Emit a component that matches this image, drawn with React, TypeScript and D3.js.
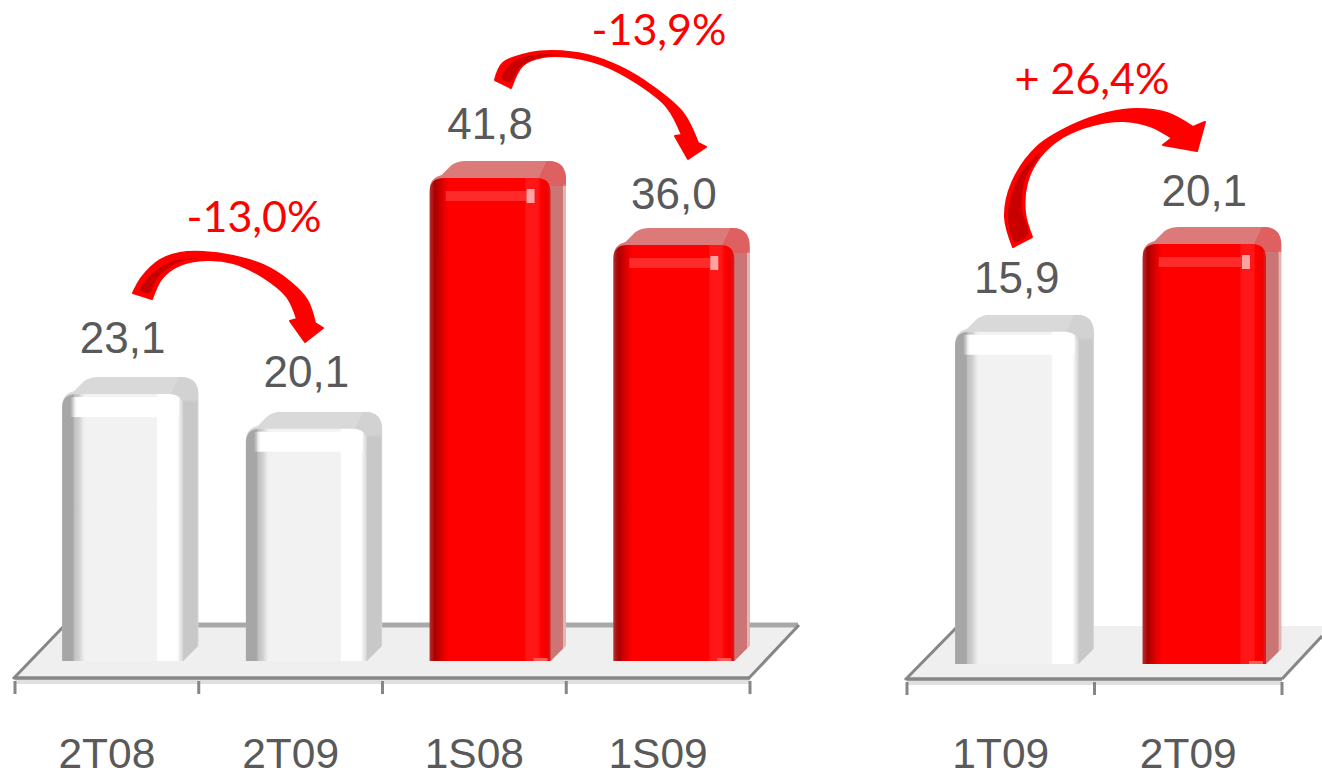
import React, { useEffect, useRef } from 'react';
import * as d3 from 'd3';

const leftCategories = ['2T08', '2T09', '1S08', '1S09'];
const leftValues = [23.1, 20.1, 41.8, 36.0];
const leftRed = [false, false, true, true];
const rightCategories = ['1T09', '2T09'];
const rightValues = [15.9, 20.1];
const rightRed = [false, true];

const GREY_TEXT = '#595959';
const AXIS = '#868686';

type Pt = [number, number];

// hand traced block arrows: outer edge, head corners, inner edge
const arrows: { outer: Pt[]; head: Pt[]; inner: Pt[]; dark: Pt[] }[] = [
  {
    outer: [[133, 293], [142, 277], [160, 260], [180, 253], [203, 252], [233, 256], [263, 265], [290, 282], [307, 300], [315, 323]],
    head: [[323, 328], [305, 342], [290, 321], [297, 319]],
    inner: [[297, 319], [287, 297], [263, 277], [233, 263], [207, 260], [180, 265], [162, 278], [152, 299]],
    dark: [[140, 290], [149, 293], [158, 277], [177, 263], [197, 258], [173, 261], [153, 273]],
  },
  {
    outer: [[495, 80], [503, 63], [530, 53], [553, 51], [587, 55], [620, 67], [653, 87], [683, 113], [698, 143]],
    head: [[706, 147], [688, 159], [675, 136], [682, 135]],
    inner: [[682, 135], [667, 107], [637, 83], [603, 65], [570, 57], [543, 57], [523, 65], [511, 88]],
    dark: [[502, 78], [510, 82], [520, 67], [537, 58], [560, 55], [533, 55], [513, 62]],
  },
  {
    outer: [[1013, 247], [1005, 217], [1012, 183], [1037, 147], [1073, 125], [1107, 113], [1137, 109], [1167, 113], [1193, 127]],
    head: [[1205, 122], [1197, 151], [1163, 145], [1172, 138]],
    inner: [[1172, 138], [1150, 126], [1123, 121], [1093, 125], [1063, 137], [1040, 157], [1027, 183], [1025, 213], [1032, 237]],
    dark: [[1015, 242], [1028, 234], [1022, 210], [1025, 180], [1040, 153], [1023, 170], [1012, 193], [1008, 217]],
  },
];

const changes = [
  { text: '-13,0%', x: 254, y: 232 },
  { text: '-13,9%', x: 659, y: 45 },
  { text: '+ 26,4%', x: 1092, y: 94 },
];

function addGradient(defs, id, stops, vertical = false) {
  const g = defs
    .append('linearGradient')
    .attr('id', id)
    .attr('x1', 0)
    .attr('y1', 0)
    .attr('x2', vertical ? 0 : 1)
    .attr('y2', vertical ? 1 : 0);
  stops.forEach(([o, c, a]) => {
    g.append('stop')
      .attr('offset', o)
      .attr('stop-color', c)
      .attr('stop-opacity', a === undefined ? 1 : a);
  });
}

let clipCount = 0;

function drawBar(svg, x0, top, base, w, side, red) {
  const x1 = x0 + w;
  const outline = `M${x0},${base}V${top + 12}Q${x0},${top} ${x0 + 12},${top - 3}L${x0 + 22},${top - 13}Q${x0 + 28},${top - 17} ${x0 + 36},${top - 17}H${x1 - 2}Q${x1 + side},${top - 17} ${x1 + side},${top + 2}V${base - side}L${x1},${base}Z`;
  const front = `M${x0},${base}V${top + 14}Q${x0},${top} ${x0 + 14},${top}H${x1 - 14}Q${x1},${top} ${x1},${top + 14}V${base}Z`;
  const id = `bar-clip-${clipCount++}`;
  svg.append('clipPath').attr('id', id).append('path').attr('d', outline);

  const bar = svg.append('g').attr('filter', 'url(#soft)');
  const g = bar.append('g').attr('clip-path', `url(#${id})`);

  g.append('rect')
    .attr('x', x0)
    .attr('y', top - 17)
    .attr('width', w + side)
    .attr('height', base - top + 17)
    .attr('fill', red ? '#dc7a7a' : '#d9d9d9');
  g.append('rect')
    .attr('x', x1)
    .attr('y', top + 6)
    .attr('width', side)
    .attr('height', base - top - 6)
    .attr('fill', red ? 'url(#sideRed)' : 'url(#sideGrey)');
  // corner where top and side meet
  g.append('path')
    .attr('d', `M${x1 - 12},${top}L${x1 - 4},${top - 17}H${x1 + side}V${top + 8}H${x1}Z`)
    .attr('fill', red ? '#e05a5a' : '#cfcfcf')
    .attr('opacity', 0.75);

  bar.append('path').attr('d', front).attr('fill', red ? 'url(#frontRed)' : 'url(#frontGrey)');

  if (red) {
    bar.append('rect')
      .attr('x', x0 + 16)
      .attr('y', top + 13)
      .attr('width', w - 32)
      .attr('height', 10)
      .attr('fill', '#ff2a2a');
    bar.append('rect')
      .attr('x', x1 - 24)
      .attr('y', top + 11)
      .attr('width', 8)
      .attr('height', 14)
      .attr('fill', '#ffa3a3');
    bar.append('rect')
      .attr('x', x1 - 17)
      .attr('y', base - 3)
      .attr('width', 14)
      .attr('height', 3)
      .attr('fill', '#ff5a5a');
  } else {
    bar.append('rect')
      .attr('x', x0 + 8)
      .attr('y', top + 3)
      .attr('width', w - 12)
      .attr('height', 20)
      .attr('fill', 'url(#shineGrey)');
  }
}

function drawChart(svg, cfg) {
  const { categories, values, red, range, base, yScale, floor, axisY, labelDy } = cfg;
  const x = d3.scaleBand().domain(categories).range(range);
  const barOffset = x.step() * 0.2565;
  const barWidth = x.step() * 0.658;
  const side = 15.5;

  svg.append('polygon').attr('points', floor.points).attr('fill', '#efefef');
  if (floor.back) {
    svg.append('line')
      .attr('x1', floor.back[0])
      .attr('x2', floor.back[1])
      .attr('y1', floor.backY)
      .attr('y2', floor.backY)
      .attr('stroke', '#a9a9a9')
      .attr('stroke-width', 5);
  }
  floor.slants.forEach((s) => {
    svg.append('line')
      .attr('x1', s[0])
      .attr('y1', s[1])
      .attr('x2', s[2])
      .attr('y2', s[3])
      .attr('stroke', AXIS)
      .attr('stroke-width', 3);
  });
  // pale band under the front edge
  svg.append('rect')
    .attr('x', range[0])
    .attr('y', axisY)
    .attr('width', range[1] - range[0])
    .attr('height', 6)
    .attr('fill', '#e0e0e0');
  svg.append('line')
    .attr('x1', range[0])
    .attr('x2', range[1])
    .attr('y1', axisY)
    .attr('y2', axisY)
    .attr('stroke', AXIS)
    .attr('stroke-width', 3.5);

  const ticks = [...categories.map((c) => x(c)), range[1]];
  ticks.forEach((t) => {
    svg.append('line')
      .attr('x1', t)
      .attr('x2', t)
      .attr('y1', axisY + 3)
      .attr('y2', axisY + 16)
      .attr('stroke', AXIS)
      .attr('stroke-width', 3);
  });

  categories.forEach((c, i) => {
    const x0 = x(c) + barOffset;
    const top = yScale(values[i]);
    drawBar(svg, x0, top, base, barWidth, side, red[i]);

    svg.append('text')
      .attr('x', x0 + barWidth / 2)
      .attr('y', top - 39 + labelDy[i])
      .attr('text-anchor', 'middle')
      .attr('font-family', '"Liberation Sans"')
      .attr('font-size', 44)
      .attr('fill', GREY_TEXT)
      .text(values[i].toFixed(1).replace('.', ','));

    svg.append('text')
      .attr('x', x(c) + x.bandwidth() / 2)
      .attr('y', 768)
      .attr('text-anchor', 'middle')
      .attr('font-family', '"Liberation Sans"')
      .attr('font-size', 42.5)
      .attr('fill', GREY_TEXT)
      .text(c);
  });
}

function App() {
  const svgRef = useRef(null);

  useEffect(() => {
    const svg = d3.select(svgRef.current);
    svg.selectAll('*').remove();
    clipCount = 0;

    const defs = svg.append('defs');
    defs.append('filter')
      .attr('id', 'soft')
      .attr('x', '-5%')
      .attr('y', '-5%')
      .attr('width', '110%')
      .attr('height', '110%')
      .append('feGaussianBlur')
      .attr('stdDeviation', 0.7);
    addGradient(defs, 'frontGrey', [
      [0, '#a6a6a6'], [0.09, '#a6a6a6'], [0.1, '#bfbfbf'], [0.14, '#d0d0d0'], [0.17, '#e8e8e8'], [0.19, '#f2f2f2'],
      [0.78, '#f2f2f2'], [0.79, '#ffffff'], [0.95, '#ffffff'], [1, '#d5d5d5'],
    ]);
    addGradient(defs, 'frontRed', [
      [0, '#b83030'], [0.04, '#a80000'], [0.08, '#c80000'], [0.12, '#e80000'], [0.16, '#ff0000'],
      [0.78, '#ff0000'], [0.8, '#ff1212'], [0.9, '#ff1212'], [0.92, '#ff0000'], [0.97, '#f00000'], [1, '#d82020'],
    ]);
    addGradient(defs, 'sideGrey', [[0, '#c8c8c8'], [0.88, '#c8c8c8'], [1, '#d8d8d8']]);
    addGradient(defs, 'sideRed', [[0, '#cc7474'], [0.8, '#cc7474'], [0.82, '#e3b6b6'], [1, '#e3b6b6']]);
    addGradient(defs, 'shineGrey', [[0, '#ffffff', 0], [0.06, '#ffffff', 1], [1, '#ffffff', 1]]);

    const leftY = d3.scaleLinear().domain([0, 41.8]).range([661, 178]);
    const rightY = d3.scaleLinear().domain([0, 20.1]).range([664, 244]);

    drawChart(svg, {
      categories: leftCategories,
      values: leftValues,
      red: leftRed,
      range: [15, 750],
      base: 661,
      yScale: leftY,
      axisY: 678,
      labelDy: [-2, -3, 0, 3],
      floor: {
        points: '15,678 65,625 798,625 748,678',
        back: [62, 798],
        backY: 625,
        slants: [[13, 679, 64, 626], [749, 678, 799, 625]],
      },
    });

    drawChart(svg, {
      categories: rightCategories,
      values: rightValues,
      red: rightRed,
      range: [907, 1282],
      base: 664,
      yScale: rightY,
      axisY: 679,
      labelDy: [0, 1],
      floor: {
        points: '907,679 957,626 1322,626 1322,636 1282,679',
        slants: [[905, 680, 956, 628], [1282, 679, 1322, 636]],
      },
    });

    // change arrows and their labels
    const curve = d3.line().curve(d3.curveCatmullRom);
    arrows.forEach((a) => {
      const outer = curve(a.outer);
      const inner = curve(a.inner).replace(/^M/, 'L');
      const head = a.head.map((p) => `L${p[0]},${p[1]}`).join('');
      svg.append('path')
        .attr('d', `${outer}${head}${inner}Z`)
        .attr('fill', '#ff0000')
        .attr('stroke', '#ff0000')
        .attr('stroke-width', 2)
        .attr('stroke-linejoin', 'round');
      svg.append('path')
        .attr('d', d3.line().curve(d3.curveCatmullRomClosed)(a.dark))
        .attr('fill', '#c80000');
    });

    changes.forEach((c) => {
      svg.append('text')
        .attr('x', c.x)
        .attr('y', c.y)
        .attr('text-anchor', 'middle')
        .attr('font-family', 'Lato')
        .attr('font-size', 43)
        .attr('fill', '#ff0000')
        .text(c.text);
    });
  }, []);

  return (
    <svg
      ref={svgRef}
      width={1322}
      height={772}
      style={{ position: 'absolute', left: 0, top: 0, background: '#fff' }}
    />
  );
}

export default App;
